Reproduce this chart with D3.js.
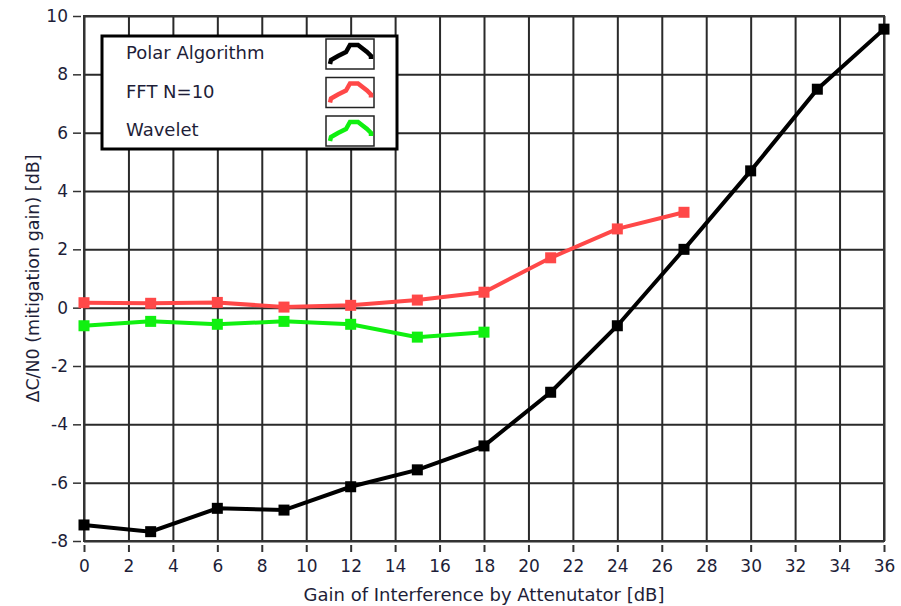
<!DOCTYPE html>
<html>
<head>
<meta charset="utf-8">
<script src="https://cdn.jsdelivr.net/npm/d3@7"></script>
<style>
    body { margin: 0; background: #fff; }
    text { font-family: "DejaVu Sans", sans-serif; fill: #1e1e38; }
</style>
</head>
<body>
<div class="chart-container"></div>
<script>
// values
const xPolar = [0, 3, 6, 9, 12, 15, 18, 21, 24, 27, 30, 33, 36];
const polar = [-7.45, -7.68, -6.88, -6.94, -6.14, -5.56, -4.74, -2.9, -0.62, 2.0, 4.69, 7.49, 9.55];
const xFft = [0, 3, 6, 9, 12, 15, 18, 21, 24, 27];
const fft = [0.17, 0.15, 0.18, 0.02, 0.08, 0.26, 0.53, 1.71, 2.7, 3.27];
const xWavelet = [0, 3, 6, 9, 12, 15, 18];
const wavelet = [-0.62, -0.47, -0.57, -0.47, -0.57, -1.01, -0.84];

const seriesNames = ['Polar Algorithm', 'FFT N=10', 'Wavelet'];
const seriesColors = ['#000000', '#ff4848', '#10f010'];
const xTicks = d3.range(0, 37, 2);
const yTicks = d3.range(-8, 11, 2);

const width = 901;
const height = 606;
const marginTop = 16;
const marginRight = 17;
const marginBottom = 65;
const marginLeft = 84;

const tickFont = '"DejaVu Sans Condensed", "DejaVu Sans", sans-serif';

const x = d3.scaleLinear()
    .domain([0, 36])
    .range([marginLeft, width - marginRight]);

const y = d3.scaleLinear()
    .domain([-8, 10])
    .range([height - marginBottom, marginTop]);

const svg = d3.select('.chart-container').append('svg')
    .attr('width', width)
    .attr('height', height);

// grid
svg.append('g')
    .attr('transform', `translate(0,${marginTop})`)
    .call(d3.axisBottom(x).tickValues(xTicks).tickSize(height - marginBottom - marginTop).tickFormat(''))
    .call(g => g.select('.domain').remove())
    .call(g => g.selectAll('line').attr('stroke', '#2a2a2a').attr('stroke-width', 2));

svg.append('g')
    .attr('transform', `translate(${marginLeft},0)`)
    .call(d3.axisRight(y).tickValues(yTicks).tickSize(width - marginRight - marginLeft).tickFormat(''))
    .call(g => g.select('.domain').remove())
    .call(g => g.selectAll('line').attr('stroke', '#2a2a2a').attr('stroke-width', 2));

svg.append('rect')
    .attr('x', marginLeft)
    .attr('y', marginTop)
    .attr('width', width - marginRight - marginLeft)
    .attr('height', height - marginBottom - marginTop)
    .attr('fill', 'none')
    .attr('stroke', '#333')
    .attr('stroke-width', 2);

// axes
svg.append('g')
    .attr('transform', `translate(0,${height - marginBottom + 4})`)
    .call(d3.axisBottom(x).tickValues(xTicks).tickSize(7).tickPadding(8).tickFormat(d => String(d)))
    .call(g => g.select('.domain').remove())
    .call(g => g.selectAll('line').attr('stroke', '#333').attr('stroke-width', 2))
    .call(g => g.selectAll('text').attr('font-size', 17).attr('font-family', tickFont).attr('fill', '#1e1e38'));

svg.append('g')
    .attr('transform', `translate(${marginLeft - 3},0)`)
    .call(d3.axisLeft(y).tickValues(yTicks).tickSize(8).tickPadding(5).tickFormat(d => String(d)))
    .call(g => g.select('.domain').remove())
    .call(g => g.selectAll('line').attr('stroke', '#333').attr('stroke-width', 1.5))
    .call(g => g.selectAll('text').attr('font-size', 17).attr('font-family', tickFont).attr('fill', '#1e1e38'));

svg.append('text')
    .attr('x', (marginLeft + width - marginRight) / 2)
    .attr('y', 601)
    .attr('text-anchor', 'middle')
    .attr('font-size', 18)
    .text('Gain of Interference by Attenutator [dB]');

svg.append('text')
    .attr('transform', `translate(33,${(marginTop + height - marginBottom) / 2}) rotate(-90)`)
    .attr('text-anchor', 'middle')
    .attr('dy', '0.35em')
    .attr('font-size', 17.5)
    .text('ΔC/N0 (mitigation gain) [dB]');

// data
const series = [
    { xs: xPolar, ys: polar },
    { xs: xFft, ys: fft },
    { xs: xWavelet, ys: wavelet }
].map((s, i) => ({ name: seriesNames[i], color: seriesColors[i], points: s.xs.map((d, j) => ({ x: d, y: s.ys[j] })) }));

const line = d3.line().x(d => x(d.x)).y(d => y(d.y));
const markerSize = 11;

series.forEach(s => {
    svg.append('path')
        .datum(s.points)
        .attr('fill', 'none')
        .attr('stroke', s.color)
        .attr('stroke-width', 4)
        .attr('d', line);

    svg.append('g').selectAll('rect')
        .data(s.points)
        .enter()
        .append('rect')
        .attr('x', d => x(d.x) - markerSize / 2)
        .attr('y', d => y(d.y) - markerSize / 2)
        .attr('width', markerSize)
        .attr('height', markerSize)
        .attr('fill', s.color);
});

// legend
const legend = svg.append('g');
legend.append('rect')
    .attr('x', 102)
    .attr('y', 36)
    .attr('width', 295)
    .attr('height', 113)
    .attr('fill', '#fff')
    .attr('stroke', '#000')
    .attr('stroke-width', 3);

// little plot glyph drawn in each swatch
const glyph = [[4, 25], [5, 21], [12, 17], [20, 13], [24, 6], [32, 6], [41, 13], [45, 17], [45, 20]];
const glyphLine = d3.line();

series.forEach((s, i) => {
    const cy = 53 + i * 38.5;
    legend.append('text')
        .attr('x', 126)
        .attr('y', cy)
        .attr('dy', '0.35em')
        .attr('font-size', 18)
        .text(s.name);

    const sw = legend.append('g').attr('transform', `translate(326,${cy - 14})`);
    sw.append('rect')
        .attr('width', 48)
        .attr('height', 30)
        .attr('fill', '#fff')
        .attr('stroke', '#222')
        .attr('stroke-width', 1.5);
    sw.append('path')
        .attr('d', glyphLine(glyph))
        .attr('fill', 'none')
        .attr('stroke', s.color)
        .attr('stroke-width', 4.5);
});
</script>
</body>
</html>
